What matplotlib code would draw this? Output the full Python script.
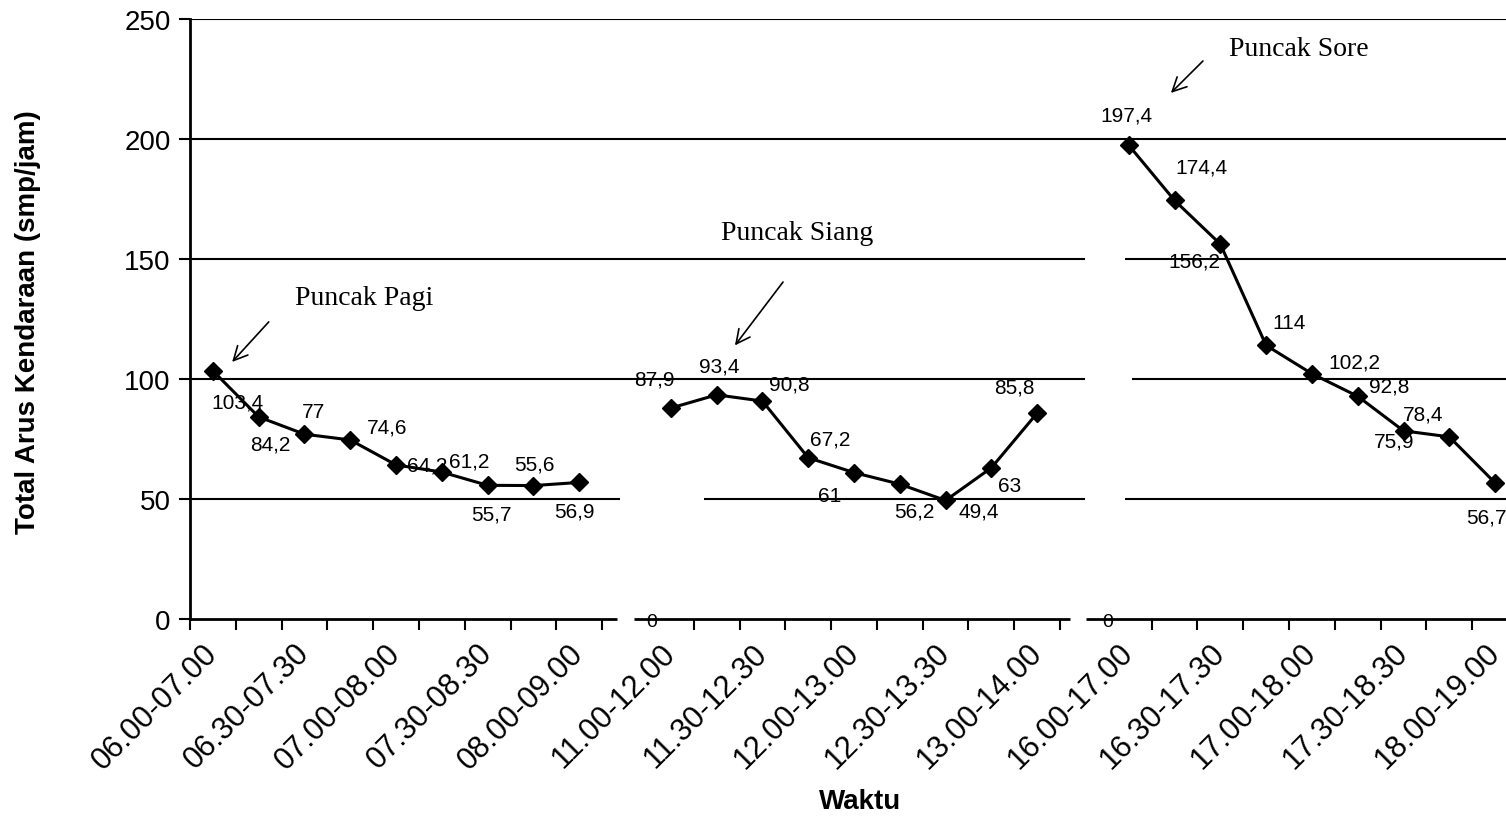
import matplotlib
matplotlib.use('Agg')
import matplotlib.pyplot as plt

# data per peak period (smp/jam), 15-minute shifted one-hour windows
pagi_waktu = ['06.00-07.00', '06.15-07.15', '06.30-07.30', '06.45-07.45', '07.00-08.00',
              '07.15-08.15', '07.30-08.30', '07.45-08.45', '08.00-09.00']
siang_waktu = ['11.00-12.00', '11.15-12.15', '11.30-12.30', '11.45-12.45', '12.00-13.00',
               '12.15-13.15', '12.30-13.30', '12.45-13.45', '13.00-14.00']
sore_waktu = ['16.00-17.00', '16.15-17.15', '16.30-17.30', '16.45-17.45', '17.00-18.00',
              '17.15-18.15', '17.30-18.30', '17.45-18.45', '18.00-19.00']

pagi = [103.4, 84.2, 77, 74.6, 64.2, 61.2, 55.7, 55.6, 56.9]
siang = [87.9, 93.4, 90.8, 67.2, 61, 56.2, 49.4, 63, 85.8]
sore = [197.4, 174.4, 156.2, 114, 102.2, 92.8, 78.4, 75.9, 56.7]

# label offsets in pixels (x right, y up)
pagi_off = [(25, -31), (12, -27), (9, 23), (37, 13), (31, 0), (27, 11), (4, -29), (1, 22), (-5, -29)]
siang_off = [(-16, 29), (3, 29), (27, 17), (22, 19), (-24, -23), (15, -27), (33, -11), (18, -18), (-23, 26)]
sore_off = [(-2, 30), (27, 33), (-26, -17), (23, 23), (42, 12), (31, 10), (20, 17), (-55, -4), (-9, -34)]

sans = 'Liberation Sans'
serif = 'Liberation Serif'
plt.rcParams['font.family'] = sans

fig = plt.figure(figsize=(15.06, 8.2), dpi=100)
ax = fig.add_axes([190 / 1506, 200 / 820, 1328 / 1506, 600 / 820])
ax.set_xlim(0, 29)
ax.set_ylim(0, 250)

# gridlines broken where the three panels were pasted together
grid = {
    250: [(0, 29)],
    200: [(0, 29)],
    150: [(0, 19.54), (20.41, 29)],
    100: [(0, 19.54), (20.57, 29)],
    50: [(0, 9.39), (11.22, 19.54), (20.41, 29)],
}
for yv, segs in grid.items():
    for a, b in segs:
        ax.plot([a, b], [yv, yv], color='black', lw=1.5, solid_capstyle='butt', zorder=1)

for a, b in [(0, 9.32), (9.69, 19.21), (19.56, 29)]:
    ax.plot([a, b], [0, 0], color='black', lw=2, solid_capstyle='butt', clip_on=False, zorder=2)

for sp in ['top', 'right', 'bottom']:
    ax.spines[sp].set_visible(False)
ax.spines['left'].set_linewidth(2)

sections = [(0, pagi_waktu, pagi, pagi_off),
            (10, siang_waktu, siang, siang_off),
            (20, sore_waktu, sore, sore_off)]

label_pos = []
label_txt = []
for start, waktu, vals, offs in sections:
    xs = [start + i + 0.5 for i in range(len(vals))]
    ax.plot(xs, vals, color='black', lw=2.2, marker='D', markersize=9, zorder=3)
    for x, v, (dx, dy) in zip(xs, vals, offs):
        ax.annotate(f'{v:g}'.replace('.', ','), (x, v), xytext=(dx, dy),
                    textcoords='offset pixels', ha='center', va='center',
                    fontsize=15, zorder=4)
    label_pos += xs[::2]
    label_txt += waktu[::2]

major = list(range(0, 10)) + list(range(11, 20)) + list(range(21, 29))
ax.set_xticks(major)
ax.set_xticklabels([])
ax.tick_params(axis='x', which='major', length=8, width=1.5, direction='out')
ax.set_xticks(label_pos, minor=True)
ax.set_xticklabels(label_txt, minor=True, rotation=45, ha='right', va='center',
                   rotation_mode='anchor', fontsize=22)
ax.tick_params(axis='x', which='minor', length=0, pad=21)

ax.set_yticks([0, 50, 100, 150, 200, 250])
ax.tick_params(axis='y', length=8, width=1.5, labelsize=20, pad=6)

# leftover zero labels of the pasted panels
for x0 in [10.09, 20.04]:
    ax.text(x0, -1, '0', ha='center', va='center', fontsize=14, clip_on=False)

# peak annotations
notes = [('Puncak Pagi', (3.80, 134), (1.72, 123.8), (0.92, 107.1)),
         ('Puncak Siang', (13.25, 161), (12.95, 140.4), (11.9, 114)),
         ('Puncak Sore', (24.21, 237.5), (22.12, 232.5), (21.42, 219.2))]
for txt, tpos, tail, head in notes:
    ax.text(tpos[0], tpos[1], txt, family=serif, fontsize=20, ha='center', va='center')
    ax.annotate('', xy=head, xytext=tail,
                arrowprops=dict(arrowstyle='->', lw=1.2, color='black',
                                mutation_scale=25, shrinkA=0, shrinkB=0))

fig.text(28 / 1506, 1 - 322 / 820, 'Total Arus Kendaraan (smp/jam)', rotation=90,
         ha='center', va='center', fontsize=20, fontweight='bold')
fig.text(860 / 1506, 1 - 802 / 820, 'Waktu', ha='center', va='center',
         fontsize=20, fontweight='bold')

fig.savefig('out.png', dpi=100)
